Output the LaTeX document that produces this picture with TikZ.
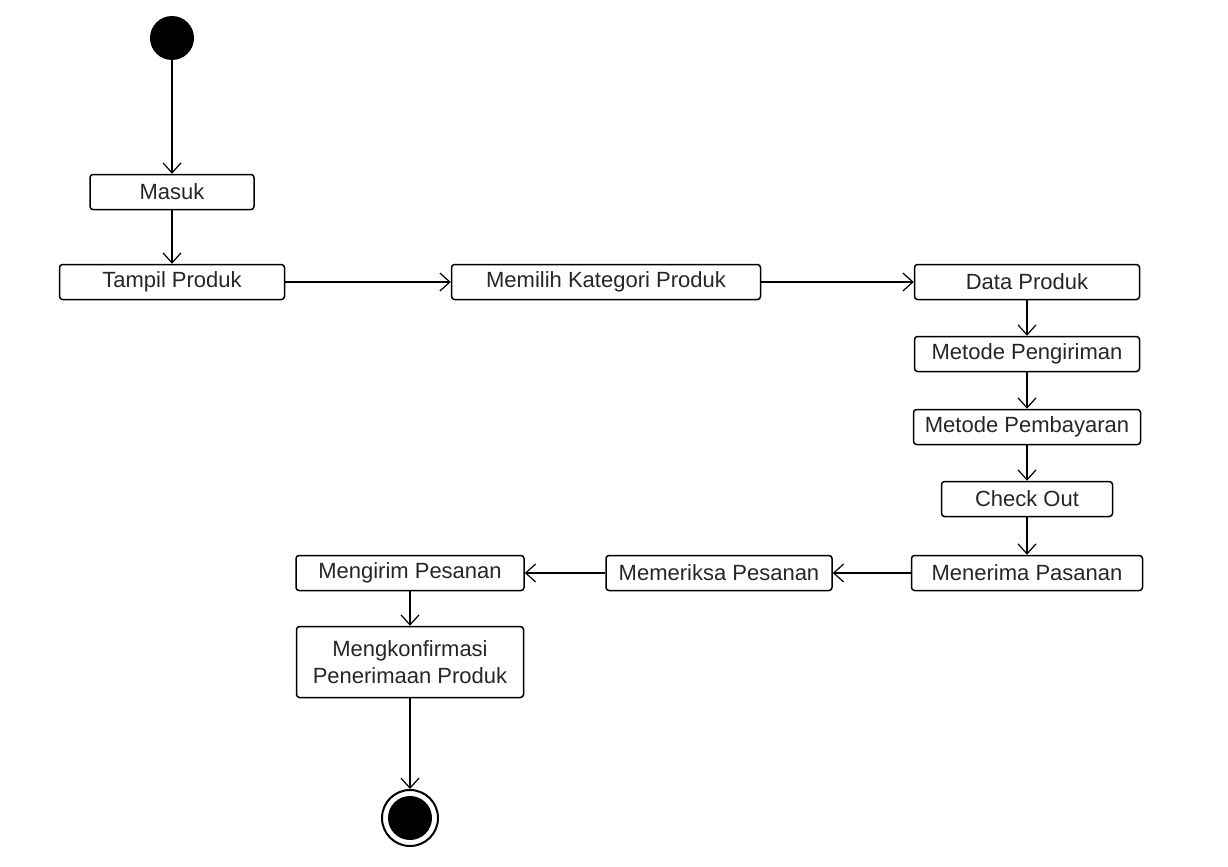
\documentclass[tikz,border=0pt]{standalone}
\usepackage{fontspec}
\setmainfont{Liberation Sans}
\usetikzlibrary{arrows.meta}
\tikzset{
	act/.style={draw, rounded corners=1.5pt, line width=0.75pt, inner sep=0pt, minimum height=17.5pt, text=black!85, font=\fontsize{11}{13.5}\selectfont},
	flow/.style={line width=0.6pt, -{Straight Barb[length=5pt, width=9pt, line width=0.6pt]}}
}

\begin{document}
\begin{tikzpicture}[x=0.5pt, y=-0.5pt]
				\useasboundingbox (0,0) rectangle (1228,867);
				
				\node[circle, fill=black, minimum size=22pt, inner sep=0pt] (start) at (172,38) {};
				
				\node[act, minimum width=82pt] (masuk) at (172,192) {Masuk};
				\node[act, minimum width=112.5pt] (tampil) at (172,282) {Tampil Produk};
				\node[act, minimum width=154.5pt] (kategori) at (606,282) {Memilih Kategori Produk};
				\node[act, minimum width=112.5pt] (data) at (1027,282) {Data Produk};
				\node[act, minimum width=112.5pt] (kirim) at (1027,354) {Metode Pengiriman};
				\node[act, minimum width=113.5pt] (bayar) at (1027,427) {Metode Pembayaran};
				\node[act, minimum width=85.5pt] (checkout) at (1027,499) {Check Out};
				\node[act, minimum width=115.5pt] (terima) at (1027,573) {Menerima Pasanan};
				\node[act, minimum width=113pt] (periksa) at (719,573) {Memeriksa Pesanan};
				\node[act, minimum width=114pt] (mengirim) at (410,573) {Mengirim Pesanan};
				\node[act, minimum width=113.5pt, minimum height=35.5pt, align=center] (konfirmasi) at (410,662) {Mengkonfirmasi\\Penerimaan Produk};
				
				\node[circle, draw, line width=1pt, minimum size=28pt, inner sep=0pt] (stop) at (410,818) {};
				\fill (stop) circle (11pt);
				
				\draw[flow] (start) -- (masuk);
				\draw[flow] (masuk) -- (tampil);
				\draw[flow] (tampil) -- (kategori);
				\draw[flow] (kategori) -- (data);
				\draw[flow] (data) -- (kirim);
				\draw[flow] (kirim) -- (bayar);
				\draw[flow] (bayar) -- (checkout);
				\draw[flow] (checkout) -- (terima);
				\draw[flow] (terima) -- (periksa);
				\draw[flow] (periksa) -- (mengirim);
				\draw[flow] (mengirim) -- (konfirmasi);
				\draw[flow] (konfirmasi) -- (stop);
			\end{tikzpicture}
\end{document}
